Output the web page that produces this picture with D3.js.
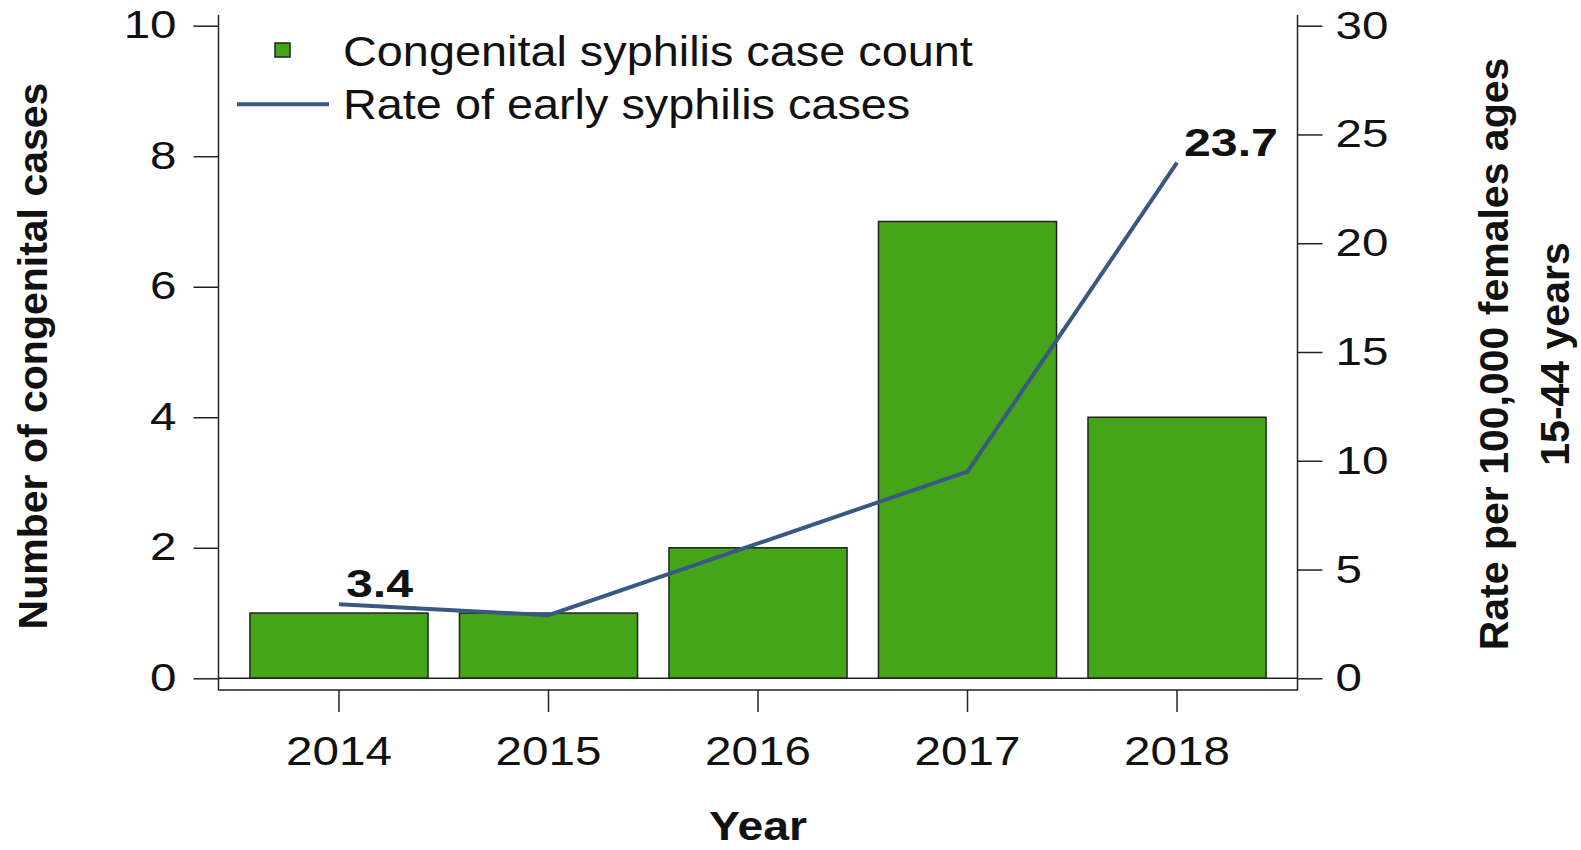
<!DOCTYPE html>
<html>
<head>
<meta charset="utf-8">
<script src="https://cdn.jsdelivr.net/npm/d3@7"></script>
<style>
  html, body { margin: 0; padding: 0; background: #fff; }
  svg { display: block; }
  text { font-family: "Liberation Sans", Arial, sans-serif; fill: #111; }
</style>
</head>
<body>
<svg id="chart" width="1581" height="850"></svg>
<script>
// Congenital syphilis case counts (bars, left axis) and early syphilis rate (line, right axis)
const years = ["2014", "2015", "2016", "2017", "2018"];
const caseCounts = [1, 1, 2, 7, 4];
const earlyRates = [3.4, 2.9, 6.2, 9.5, 23.7];
const labelledYears = ["2014", "2018"];
const leftTicks = [0, 2, 4, 6, 8, 10];
const rightTicks = [0, 5, 10, 15, 20, 25, 30];

const barName = "Congenital syphilis case count";
const lineName = "Rate of early syphilis cases";
const leftTitle = "Number of congenital cases";
const rightTitle = ["Rate per 100,000 females ages", "15-44 years"];
const xTitle = "Year";

const GREEN = "#44a519";
const BLUE = "#3a5884";
const INK = "#222";

const svg = d3.select("#chart");

// frame geometry
const frame = { left: 218.5, right: 1297.5, top: 15, bottom: 690 };
const plotTop = 25.7, plotZero = 678.3;

const x = d3.scaleBand().domain(years).range([frame.left, frame.right])
  .paddingInner(0.15).paddingOuter(0.15);
const yLeft = d3.scaleLinear().domain([0, 10]).range([plotZero, plotTop]);
const yRight = d3.scaleLinear().domain([0, 30]).range([plotZero, plotTop]);

// horizontally widened text, as in the original figure's rendering
function stretch(sel, sx) {
  sel.each(function () {
    const t = d3.select(this);
    const tx = +t.attr("x") || 0, ty = +t.attr("y") || 0;
    t.attr("x", 0).attr("y", 0)
      .attr("transform", `translate(${tx},${ty}) scale(${sx},1)`);
  });
}

// bars
svg.append("g").selectAll("rect")
  .data(years.map((yr, i) => ({ yr, v: caseCounts[i] })))
  .join("rect")
  .attr("x", d => x(d.yr))
  .attr("width", x.bandwidth())
  .attr("y", d => yLeft(d.v))
  .attr("height", d => yLeft(0) - yLeft(d.v))
  .attr("fill", GREEN)
  .attr("stroke", INK)
  .attr("stroke-width", 1.5);

// zero baseline running between the two axes
svg.append("line")
  .attr("x1", frame.left).attr("x2", frame.right)
  .attr("y1", yLeft(0)).attr("y2", yLeft(0))
  .attr("stroke", INK).attr("stroke-width", 1.5);

// open frame: left, bottom, right
svg.append("path")
  .attr("d", `M${frame.left},${frame.top}V${frame.bottom}H${frame.right}V${frame.top}`)
  .attr("fill", "none").attr("stroke", INK).attr("stroke-width", 1.5);

// left axis
const gl = svg.append("g").attr("transform", `translate(${frame.left},0)`)
  .call(d3.axisLeft(yLeft).tickValues(leftTicks).tickSize(25).tickPadding(17));
gl.select(".domain").remove();
gl.selectAll(".tick line").attr("stroke", INK).attr("stroke-width", 1.5);
gl.selectAll(".tick text").style("font-size", "38px").attr("fill", "#111")
  .attr("font-family", null);
stretch(gl.selectAll(".tick text"), 1.25);

// right axis
const gr = svg.append("g").attr("transform", `translate(${frame.right},0)`)
  .call(d3.axisRight(yRight).tickValues(rightTicks).tickSize(25).tickPadding(13));
gr.select(".domain").remove();
gr.selectAll(".tick line").attr("stroke", INK).attr("stroke-width", 1.5);
gr.selectAll(".tick text").style("font-size", "39px").attr("fill", "#111")
  .attr("font-family", null);
stretch(gr.selectAll(".tick text"), 1.22);

// bottom axis
const gb = svg.append("g").attr("transform", `translate(0,${frame.bottom})`)
  .call(d3.axisBottom(x).tickSize(22).tickPadding(25));
gb.select(".domain").remove();
gb.selectAll(".tick line").attr("stroke", INK).attr("stroke-width", 1.5);
gb.selectAll(".tick text").style("font-size", "40px").attr("fill", "#111")
  .attr("font-family", null);
stretch(gb.selectAll(".tick text"), 1.19);

// rate line
const pts = years.map((yr, i) => ({ yr, v: earlyRates[i] }));
const line = d3.line().x(d => x(d.yr) + x.bandwidth() / 2).y(d => yRight(d.v));
svg.append("path").datum(pts)
  .attr("d", line)
  .attr("fill", "none")
  .attr("stroke", BLUE)
  .attr("stroke-width", 4)
  .attr("stroke-linejoin", "miter");

// value labels at the first and last points
svg.append("g").selectAll("text")
  .data(pts.filter(d => labelledYears.includes(d.yr)))
  .join("text")
  .attr("x", d => x(d.yr) + x.bandwidth() / 2 + 7)
  .attr("y", d => yRight(d.v) - 7)
  .style("font-size", "38px").style("font-weight", "bold")
  .text(d => d3.format(".1f")(d.v))
  .call(stretch, 1.27);

// legend
const lg = svg.append("g");
lg.append("rect").attr("x", 275).attr("y", 43).attr("width", 15).attr("height", 14)
  .attr("fill", GREEN).attr("stroke", INK).attr("stroke-width", 1.5);
lg.append("line").attr("x1", 237).attr("x2", 329).attr("y1", 104.3).attr("y2", 104.3)
  .attr("stroke", BLUE).attr("stroke-width", 4);
lg.append("text").attr("x", 343).attr("y", 66).style("font-size", "42px")
  .text(barName).call(stretch, 1.115);
lg.append("text").attr("x", 343).attr("y", 119).style("font-size", "42px")
  .text(lineName).call(stretch, 1.115);

// axis titles
svg.append("text")
  .attr("transform", "translate(47,356) rotate(-90)")
  .attr("text-anchor", "middle")
  .style("font-size", "41px").style("font-weight", "bold")
  .text(leftTitle);

svg.append("g").selectAll("text")
  .data(rightTitle)
  .join("text")
  .attr("transform", (d, i) => `translate(${1508 + i * 61},354) rotate(-90)`)
  .attr("text-anchor", "middle")
  .style("font-size", "41px").style("font-weight", "bold")
  .text(d => d);

svg.append("text")
  .attr("x", x("2016") + x.bandwidth() / 2).attr("y", 840)
  .attr("text-anchor", "middle")
  .style("font-size", "41px").style("font-weight", "bold")
  .text(xTitle)
  .call(stretch, 1.13);
</script>
</body>
</html>
